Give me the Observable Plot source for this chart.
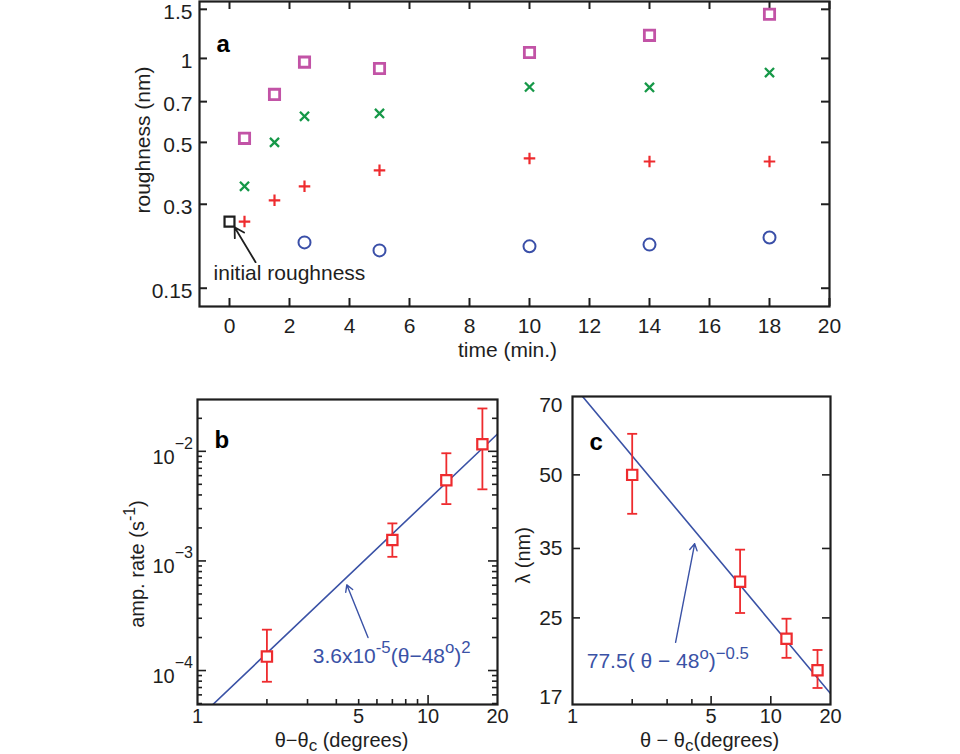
<!DOCTYPE html>
<html><head><meta charset="utf-8">
<script src="https://cdn.jsdelivr.net/npm/d3@7"></script>
<script src="https://cdn.jsdelivr.net/npm/@observablehq/plot@0.6"></script>
<style>
body{margin:0;background:#fff;}
#chart{position:relative;width:960px;height:754px;background:#fff;overflow:hidden;}
#chart svg{position:absolute;left:0;top:0;}
</style></head><body><div id="chart"></div>
<script>
// ---------- Panel a: roughness vs time ----------
const time = [0.5, 1.5, 2.5, 5, 10, 14, 18];
const plusRough = [0.26, 0.31, 0.348, 0.397, 0.438, 0.427, 0.427];
const timesRough = [0.348, 0.50, 0.62, 0.635, 0.79, 0.787, 0.89];
const squareRough = [0.517, 0.743, 0.97, 0.92, 1.05, 1.21, 1.44];
const circleTime = [2.5, 5, 10, 14, 18];
const circleRough = [0.219, 0.205, 0.212, 0.215, 0.228];
const initialTime = [0];
const initialRough = [0.26];
const timeTicks = [0, 2, 4, 6, 8, 10, 12, 14, 16, 18, 20];
const roughTicks = [0.15, 0.3, 0.5, 0.7, 1, 1.5];
const roughTickLabels = ["0.15", "0.3", "0.5", "0.7", "1", "1.5"];

// ---------- Panel b: amplification rate ----------
const angle = [2, 7, 12, 17.2];
const rate = [1.34e-4, 1.55e-3, 5.45e-3, 0.0116];
const rateLo = [7.9e-5, 1.09e-3, 3.3e-3, 4.5e-3];
const rateHi = [2.36e-4, 2.2e-3, 9.6e-3, 0.0246];
const rateFitCoef = 3.6e-5, rateFitExp = 2;
const bXTickLabels = [1, 5, 10, 20];
const bXMajor = [10];
const bXMinor = [2, 3, 4, 5, 6, 7, 8, 9];
const bYMajor = [1e-4, 1e-3, 1e-2];
const bYExpLabels = ["−4", "−3", "−2"];
const bYMinor = [5e-5, 6e-5, 7e-5, 8e-5, 9e-5, 2e-4, 3e-4, 4e-4, 5e-4, 6e-4, 7e-4, 8e-4, 9e-4,
                 2e-3, 3e-3, 4e-3, 5e-3, 6e-3, 7e-3, 8e-3, 9e-3, 2e-2];

// ---------- Panel c: wavelength ----------
const lambda = [50, 29.8, 22.6, 19.4];
const lambdaLo = [41.4, 25.6, 20.6, 17.8];
const lambdaHi = [61, 34.8, 24.9, 21.4];
const lambdaFitCoef = 77.5, lambdaFitExp = -0.5;
const cXTickLabels = [1, 5, 10, 20];
const cXMajor = [5, 10];
const cXMinor = [2, 3, 4];
const cYTicks = [17, 25, 35, 50, 70];
const cYMarks = [25, 35, 50];

// ---------- style ----------
const W = 960, H = 754;
const FONT = "'Liberation Sans', Arial, Helvetica, sans-serif";
const INK = "#1e1e1e", MAG = "#c253a6", GRN = "#169848", RED = "#ee2b2e", BLU = "#3a4fa8", LINE = "#3a52a6";
const styleA = {fontFamily: FONT, fontSize: "21px", background: "transparent", overflow: "visible", color: INK};
const styleBC = {fontFamily: FONT, fontSize: "20px", background: "transparent", overflow: "visible", color: INK};
const capSym = {draw(ctx, size) { const r = Math.sqrt(size / Math.PI); ctx.moveTo(-r, 0); ctx.lineTo(r, 0); }};

const chart = document.getElementById("chart");

// ---------- Panel a ----------
{
  const mL = 199, mR = 131, mT = 1, mB = 448;
  const fw = W - mL - mR, fh = H - mT - mB;
  const zip = (xs, ys) => xs.map((x, i) => ({x, y: ys[i]}));
  const svg = Plot.plot({
    width: W, height: H, marginLeft: mL, marginRight: mR, marginTop: mT, marginBottom: mB,
    x: {domain: [-1, 20], axis: null},
    y: {type: "log", domain: [0.129, 1.60], axis: null},
    style: styleA,
    marks: [
      Plot.tickX(timeTicks, {x: d => d, insetTop: fh - 8, stroke: INK, strokeWidth: 2}),
      Plot.tickX(timeTicks, {x: d => d, insetBottom: fh - 8, stroke: INK, strokeWidth: 2}),
      Plot.tickY(roughTicks, {y: d => d, insetRight: fw - 8, stroke: INK, strokeWidth: 2}),
      Plot.tickY(roughTicks, {y: d => d, insetLeft: fw - 8, stroke: INK, strokeWidth: 2}),
      Plot.frame({stroke: INK, strokeWidth: 2.2}),
      Plot.dot(zip(circleTime, circleRough), {x: "x", y: "y", symbol: "circle", r: 6, stroke: BLU, strokeWidth: 2}),
      Plot.dot(zip(time, plusRough), {x: "x", y: "y", symbol: "plus", r: 3.8, stroke: RED, strokeWidth: 2.2}),
      Plot.dot(zip(time, timesRough), {x: "x", y: "y", symbol: "times", r: 4.2, stroke: GRN, strokeWidth: 2.3}),
      Plot.dot(zip(time, squareRough), {x: "x", y: "y", symbol: "square", r: 5.8, stroke: MAG, strokeWidth: 2.8}),
      Plot.dot(zip(initialTime, initialRough), {x: "x", y: "y", symbol: "square", r: 5.6, stroke: INK, strokeWidth: 2.2}),
      Plot.arrow([{x1: 0.87, y1: 0.186, x2: 0.17, y2: 0.248}], {x1: "x1", y1: "y1", x2: "x2", y2: "y2", stroke: INK, strokeWidth: 1.8, headLength: 9}),
      Plot.text([{x: -0.53, y: 0.160, t: "initial roughness"}], {x: "x", y: "y", text: "t", textAnchor: "start", lineAnchor: "bottom", fill: INK}),
      Plot.text(timeTicks, {x: d => d, frameAnchor: "bottom", dy: 26, lineAnchor: "bottom", text: d => String(d), fill: INK}),
      Plot.text(roughTicks, {y: d => d, frameAnchor: "left", dx: -7, dy: 3, textAnchor: "end", text: (d, i) => roughTickLabels[i], fill: INK}),
      Plot.text(["roughness (nm)"], {frameAnchor: "left", dx: -56, dy: -14, rotate: -90, textAnchor: "middle", text: d => d, fill: INK}),
      Plot.text(["time (min.)"], {frameAnchor: "bottom", dx: -7, dy: 50, lineAnchor: "bottom", text: d => d, fill: INK}),
      Plot.text(["a"], {frameAnchor: "top-left", dx: 17, dy: 50, lineAnchor: "bottom", textAnchor: "start", text: d => d, fontWeight: "bold", fontSize: 24, fill: "#000"})
    ]
  });
  chart.appendChild(svg);
}

// ---------- Panel b ----------
{
  const mL = 197, mR = 463, mT = 399, mB = 50;
  const fw = W - mL - mR, fh = H - mT - mB;
  const data = angle.map((x, i) => ({x, v: rate[i], lo: rateLo[i], hi: rateHi[i]}));
  const fit = [1, 20].map(x => ({x, y: rateFitCoef * Math.pow(x, rateFitExp)}));
  const svg = Plot.plot({
    width: W, height: H, marginLeft: mL, marginRight: mR, marginTop: mT, marginBottom: mB,
    x: {type: "log", domain: [1, 20], axis: null},
    y: {type: "log", domain: [4.9e-5, 0.0297], axis: null},
    style: styleBC,
    marks: [
      Plot.tickX(bXMajor, {x: d => d, insetTop: fh - 9, stroke: INK, strokeWidth: 1.6}),
      Plot.tickX(bXMinor, {x: d => d, insetTop: fh - 5, stroke: INK, strokeWidth: 1.6}),
      Plot.tickY(bYMajor, {y: d => d, insetRight: fw - 9, stroke: INK, strokeWidth: 1.6}),
      Plot.tickY(bYMinor, {y: d => d, insetRight: fw - 5, stroke: INK, strokeWidth: 1.6}),
      Plot.tickY(bYMajor, {y: d => d, insetLeft: fw - 9, stroke: INK, strokeWidth: 1.6}),
      Plot.tickY(bYMinor, {y: d => d, insetLeft: fw - 5, stroke: INK, strokeWidth: 1.6}),
      Plot.line(fit, {x: "x", y: "y", stroke: LINE, strokeWidth: 1.6, clip: true}),
      Plot.frame({stroke: INK, strokeWidth: 2.2}),
      Plot.ruleX(data, {x: "x", y1: "lo", y2: "hi", stroke: RED, strokeWidth: 1.8}),
      Plot.dot(data, {x: "x", y: "lo", symbol: capSym, r: 5, stroke: RED, strokeWidth: 1.8}),
      Plot.dot(data, {x: "x", y: "hi", symbol: capSym, r: 5, stroke: RED, strokeWidth: 1.8}),
      Plot.dot(data, {x: "x", y: "v", symbol: "square", r: 5.8, stroke: RED, fill: "white", strokeWidth: 2.2}),
      Plot.arrow([{x1: 5.49, y1: 2.0e-4, x2: 4.44, y2: 6.05e-4}], {x1: "x1", y1: "y1", x2: "x2", y2: "y2", stroke: LINE, strokeWidth: 1.4, headLength: 8}),
      Plot.text([{x: 3.16, y: 1.18e-4, t: "3.6x10^{-5}(θ−48^{o})^{2}"}], {x: "x", y: "y", text: "t", textAnchor: "start", lineAnchor: "bottom", fill: LINE, fontSize: 21}),
      Plot.text(bXTickLabels, {x: d => d, frameAnchor: "bottom", dy: 18, lineAnchor: "bottom", text: d => String(d), fill: INK}),
      Plot.text(bYMajor, {y: d => d, frameAnchor: "left", dx: -45, dy: 6, textAnchor: "start", text: (d, i) => "10^<0,-15,16>{" + bYExpLabels[i] + "}", fill: INK}),
      Plot.text(["amp. rate (s^{-1})"], {frameAnchor: "left", dx: -60, dy: 12, rotate: -90, textAnchor: "middle", text: d => d, fill: INK}),
      Plot.text(["θ−θ_<0,4,17>{c} (degrees)"], {frameAnchor: "bottom", dx: -6, dy: 42, lineAnchor: "bottom", text: d => d, fill: INK}),
      Plot.text(["b"], {frameAnchor: "top-left", dx: 17, dy: 48, lineAnchor: "bottom", textAnchor: "start", text: d => d, fontWeight: "bold", fontSize: 24, fill: "#000"})
    ]
  });
  chart.appendChild(svg);
}

// ---------- Panel c ----------
{
  const mL = 572, mR = 130, mT = 396, mB = 50;
  const fw = W - mL - mR, fh = H - mT - mB;
  const data = angle.map((x, i) => ({x, v: lambda[i], lo: lambdaLo[i], hi: lambdaHi[i]}));
  const fit = [1, 20].map(x => ({x, y: lambdaFitCoef * Math.pow(x, lambdaFitExp)}));
  const svg = Plot.plot({
    width: W, height: H, marginLeft: mL, marginRight: mR, marginTop: mT, marginBottom: mB,
    x: {type: "log", domain: [1, 20], axis: null},
    y: {type: "log", domain: [16.43, 73.1], axis: null},
    style: styleBC,
    marks: [
      Plot.tickX(cXMajor, {x: d => d, insetTop: fh - 8, stroke: INK, strokeWidth: 1.6}),
      Plot.tickX(cXMinor, {x: d => d, insetTop: fh - 5, stroke: INK, strokeWidth: 1.6}),
      Plot.tickY(cYMarks, {y: d => d, insetRight: fw - 8, stroke: INK, strokeWidth: 1.6}),
      Plot.tickY(cYMarks, {y: d => d, insetLeft: fw - 8, stroke: INK, strokeWidth: 1.6}),
      Plot.line(fit, {x: "x", y: "y", stroke: LINE, strokeWidth: 1.6, clip: true}),
      Plot.frame({stroke: INK, strokeWidth: 2.2}),
      Plot.ruleX(data, {x: "x", y1: "lo", y2: "hi", stroke: RED, strokeWidth: 1.8}),
      Plot.dot(data, {x: "x", y: "lo", symbol: capSym, r: 5, stroke: RED, strokeWidth: 1.8}),
      Plot.dot(data, {x: "x", y: "hi", symbol: capSym, r: 5, stroke: RED, strokeWidth: 1.8}),
      Plot.dot(data, {x: "x", y: "v", symbol: "square", r: 5.8, stroke: RED, fill: "white", strokeWidth: 2.2}),
      Plot.arrow([{x1: 3.31, y1: 22.2, x2: 4.13, y2: 35.8}], {x1: "x1", y1: "y1", x2: "x2", y2: "y2", stroke: LINE, strokeWidth: 1.4, headLength: 8}),
      Plot.text([{x: 1.18, y: 19.6, t: "77.5( θ − 48^{o})^{−0.5}"}], {x: "x", y: "y", text: "t", textAnchor: "start", lineAnchor: "bottom", fill: LINE, fontSize: 21}),
      Plot.text(cXTickLabels, {x: d => d, frameAnchor: "bottom", dy: 18, lineAnchor: "bottom", text: d => String(d), fill: INK}),
      Plot.text(cYTicks, {y: d => d, frameAnchor: "left", dx: -10, textAnchor: "end", text: d => String(d), fill: INK, fontSize: 21}),
      Plot.text(["λ (nm)"], {frameAnchor: "left", dx: -49, dy: 5, rotate: -90, textAnchor: "middle", text: d => d, fill: INK}),
      Plot.text(["θ − θ_<0,4,17>{c}(degrees)"], {frameAnchor: "bottom", dx: 8, dy: 42, lineAnchor: "bottom", text: d => d, fill: INK}),
      Plot.text(["c"], {frameAnchor: "top-left", dx: 17, dy: 53, lineAnchor: "bottom", textAnchor: "start", text: d => d, fontWeight: "bold", fontSize: 24, fill: "#000"})
    ]
  });
  chart.appendChild(svg);
}

// ---------- rich text: ^{sup}, _{sub}, optional ^<dx,dy,size>{...} ----------
const NS = "http://www.w3.org/2000/svg";
chart.querySelectorAll("text").forEach(t => {
  const s = t.textContent;
  if (!/[\^_](<[^>]*>)?\{/.test(s)) return;
  const fs = parseFloat(getComputedStyle(t).fontSize) || 21;
  while (t.firstChild) t.removeChild(t.firstChild);
  const re = /([\^_])(?:<([^>]*)>)?\{([^}]*)\}/g;
  let last = 0, m, cur = 0;
  const add = (str, kind, opts) => {
    if (!str) return;
    const sp = document.createElementNS(NS, "tspan");
    let target = kind === "^" ? -0.45 * fs : kind === "_" ? 0.3 * fs : 0;
    let size = kind === "^" ? 0.8 * fs : kind === "_" ? 0.9 * fs : null;
    if (opts) {
      const [odx, ody, osz] = opts.split(",").map(Number);
      if (!isNaN(odx) && odx !== 0) sp.setAttribute("dx", odx);
      if (!isNaN(ody)) target = ody;
      if (!isNaN(osz)) size = osz;
    }
    if (target !== cur) sp.setAttribute("dy", target - cur);
    cur = target;
    if (size) sp.setAttribute("font-size", size);
    sp.textContent = str;
    t.appendChild(sp);
  };
  while ((m = re.exec(s))) {
    add(s.slice(last, m.index), null);
    add(m[3], m[1], m[2]);
    last = re.lastIndex;
  }
  add(s.slice(last), null);
});
</script>
</body></html>
